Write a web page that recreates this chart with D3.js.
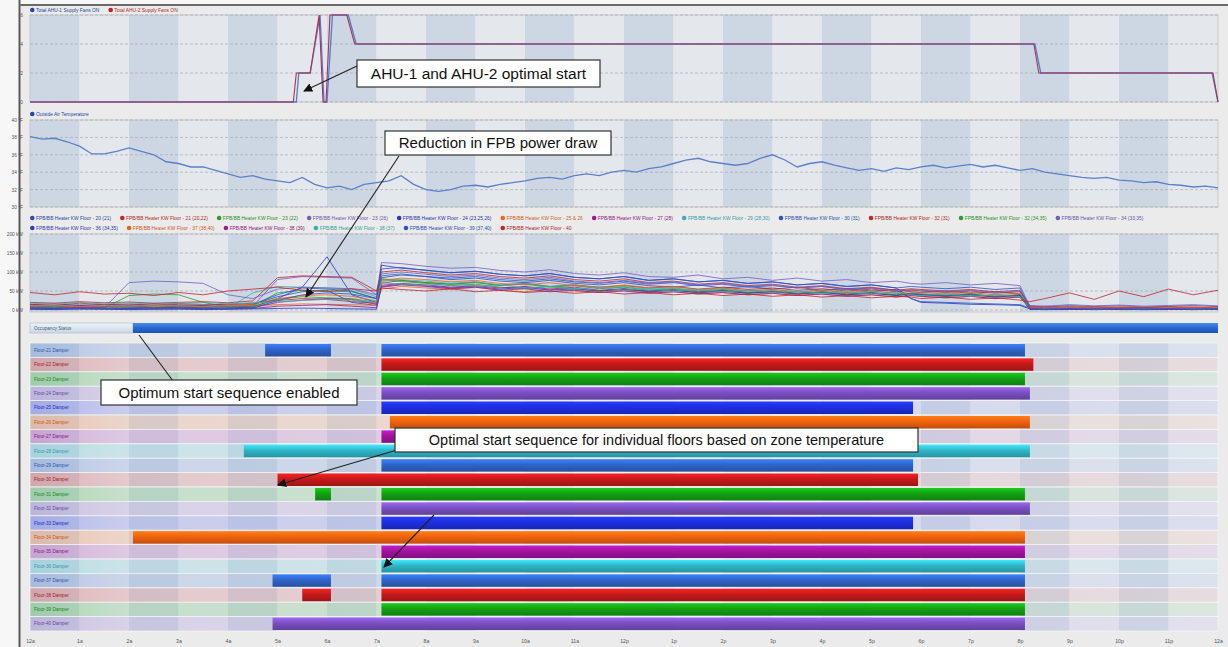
<!DOCTYPE html>
<html><head><meta charset="utf-8">
<script src="https://cdn.jsdelivr.net/npm/d3@7"></script>
<style>
body{margin:0;background:#fff;}
svg{display:block;font-family:"Liberation Sans",Arial,sans-serif;}
</style>
</head><body>
<svg id="c" width="1228" height="647"></svg>
<script>
// ---------------- DATA ----------------
const hourLabels = ["12a","1a","2a","3a","4a","5a","6a","7a","8a","9a","10a","11a","12p","1p","2p","3p","4p","5p","6p","7p","8p","9p","10p","11p","12a"];

// Panel 1: AHU supply fans ON
const ahuNames = ["Total AHU-1 Supply Fans ON","Total AHU-2 Supply Fans ON"];
const ahu1Hours = [0,5.38,5.43,5.66,5.86,5.94,6.0,6.11,6.43,6.59,20.3,20.42,23.88,24];
const ahu1Values = [0,0,2,2,6,0,0,6,6,4,4,2,2,0];
const ahu2Hours = [0,5.32,5.38,5.66,5.84,5.92,5.98,6.06,6.4,6.56,20.28,20.38,23.9,24];
const ahu2Values = [0,0,2,2,6,0,0,6,6,4,4,2,2,0];
const ahuTicks = [0,2,4,6];

// Panel 2: outside air temperature, every 15 min
const oatName = "Outside Air Temperature";
const oatValues = [38.1,37.8,37.9,37.5,37.0,36.1,36.1,36.4,36.8,36.4,36.0,35.2,35.0,34.6,34.6,34.2,
  33.8,33.4,33.6,33.2,33.0,32.8,33.4,32.6,32.2,32.4,32.0,32.6,32.8,33.0,33.6,32.6,
  32.0,31.8,32.0,32.4,32.5,32.3,32.6,32.8,33.0,33.3,33.4,33.2,33.6,33.8,33.6,34.0,
  34.2,34.0,34.4,34.6,35.0,35.4,35.6,35.2,35.0,34.8,35.0,35.6,36.0,35.4,34.6,35.0,
  35.2,34.8,34.5,34.2,34.4,34.1,34.5,34.3,34.6,34.8,34.5,34.7,34.9,34.6,34.8,34.5,
  34.2,34.4,34.0,33.8,33.6,33.4,33.3,33.4,33.1,33.0,32.8,32.9,32.6,32.5,32.3,32.4,32.2];
const oatTicks = [30,32,34,36,38,40];

// Panel 3: FPB/BB heater kW
const kwHours = [0,0.5,1,1.5,2,2.5,3,3.5,4,4.5,5,5.5,6,6.5,7,7.1,7.5,8,8.5,9,9.5,10,10.5,11,11.5,12,12.5,13,13.5,14,14.5,15,15.5,16,16.5,17,17.5,17.8,18,18.5,19,19.5,20,20.2,20.5,21,21.5,22,22.5,23,23.5,24];
const kwNames = [
 "FPB/BB Heater KW Floor - 20 (21)","FPB/BB Heater KW Floor - 21 (20,22)","FPB/BB Heater KW Floor - 23 (22)",
 "FPB/BB Heater KW Floor - 23 (26)","FPB/BB Heater KW Floor - 24 (23,25,26)","FPB/BB Heater KW Floor - 25 & 26",
 "FPB/BB Heater KW Floor - 27 (28)","FPB/BB Heater KW Floor - 29 (28,30)","FPB/BB Heater KW Floor - 30 (31)",
 "FPB/BB Heater KW Floor - 32 (31)","FPB/BB Heater KW Floor - 32 (34,35)","FPB/BB Heater KW Floor - 34 (33,35)",
 "FPB/BB Heater KW Floor - 36 (34,35)","FPB/BB Heater KW Floor - 37 (38,40)","FPB/BB Heater KW Floor - 38 (39)",
 "FPB/BB Heater KW Floor - 38 (37)","FPB/BB Heater KW Floor - 39 (37,40)","FPB/BB Heater KW Floor - 40"];
const kwColors = ["#2a4db5","#c0282d","#2aa02a","#7a5cc0","#2338c8","#e8691f","#9c1a8e","#3aaeb0","#2a54c0",
  "#c0282d","#2aa02a","#7060c0","#2a3fc0","#e8601f","#9c1a8e","#3aaeb0","#2a54c0","#c0282d"];
const kw01 = [10,8,12,9,11,7,10,12,8,14,35,48,52,20,12,85,92,88,80,84,76,72,78,70,66,72,64,60,66,58,62,55,60,52,56,50,54,48,46,50,44,48,42,6,4,5,3,6,4,5,3,4];
const kw02 = [15,12,18,14,16,13,17,15,14,18,25,30,28,22,18,70,78,72,68,74,65,70,62,66,60,64,58,62,55,60,54,58,52,56,50,55,48,52,50,46,50,44,48,8,10,6,8,5,7,6,8,5];
const kw03 = [5,4,6,5,38,42,40,20,8,10,45,52,50,48,30,80,75,70,64,68,60,56,62,54,50,56,48,52,46,50,44,48,42,46,40,44,38,42,40,36,40,34,38,3,2,4,2,3,2,4,3,2];
const kw04 = [8,6,9,7,8,6,9,7,8,10,80,88,86,84,40,125,122,115,110,112,104,100,106,96,92,98,88,86,92,82,86,78,84,76,80,72,76,70,68,72,66,70,64,10,8,12,9,11,8,10,12,9];
const kw05 = [6,5,7,4,6,5,7,6,5,8,30,60,140,40,20,118,110,105,98,102,94,90,96,86,82,88,78,82,74,78,70,74,66,70,62,66,58,30,20,18,15,14,12,3,2,3,2,4,2,3,2,3];
const kw06 = [12,10,14,11,13,10,12,14,11,12,14,16,15,14,12,55,62,58,54,60,52,48,55,50,46,52,44,48,42,46,40,44,38,42,36,40,34,38,36,32,36,30,34,5,4,6,3,5,4,6,3,5];
const kw07 = [3,2,4,3,2,4,3,2,3,4,10,12,14,10,6,65,70,66,60,64,58,62,55,60,52,56,50,54,48,52,46,50,44,48,42,46,40,44,42,38,42,36,40,2,1,2,1,2,1,2,1,2];
const kw08 = [4,3,5,4,3,5,4,3,4,45,62,60,58,55,35,75,80,76,70,74,66,70,62,66,58,62,55,58,52,56,50,54,48,52,46,50,44,40,38,42,36,40,34,4,3,5,3,4,3,5,4,3];
const kw09 = [14,16,12,15,13,17,14,12,16,15,40,58,55,50,30,90,95,88,84,88,80,76,82,74,70,76,68,72,64,68,60,64,58,62,54,58,52,30,22,20,18,16,14,5,4,6,4,5,3,5,4,5];
const kw10 = [20,18,22,19,21,18,20,22,19,24,85,90,88,86,50,100,105,98,92,96,88,84,90,80,76,82,72,76,68,72,64,68,60,64,56,60,52,56,54,50,54,48,52,8,6,9,7,8,6,9,7,8];
const kw11 = [8,10,7,9,8,11,9,8,10,9,28,35,32,30,20,82,78,72,68,72,64,68,60,64,56,60,52,56,50,54,46,50,44,48,42,46,40,44,42,38,42,36,40,3,2,4,2,3,2,3,2,3];
const kw12 = [6,5,7,6,72,76,74,70,40,30,55,60,58,56,40,95,100,94,88,92,84,80,86,76,72,78,70,74,66,70,62,66,58,62,54,58,50,54,52,48,52,46,50,12,10,14,11,13,10,12,14,11];
const kw13 = [2,1,3,2,1,2,3,1,2,3,4,5,4,3,2,62,68,64,58,62,55,60,52,56,50,54,48,52,45,50,44,48,42,46,40,44,38,42,40,36,40,34,38,2,1,2,1,2,1,2,1,2];
const kw14 = [10,12,9,11,10,13,11,9,12,14,30,38,40,36,24,78,84,80,74,78,70,66,72,64,60,66,58,62,54,58,50,54,48,52,46,50,44,48,46,42,46,40,44,6,5,7,5,6,4,6,5,6];
const kw15 = [5,4,6,5,4,6,5,4,5,6,20,26,30,28,15,60,66,62,56,60,52,56,48,52,46,50,44,48,42,46,40,44,38,42,36,40,34,38,36,32,36,30,34,2,2,3,2,2,3,2,2,3];
const kw16 = [18,15,20,16,19,15,18,20,16,19,22,25,28,26,20,72,68,64,70,62,66,58,62,55,60,52,56,50,54,48,52,46,50,44,48,42,46,40,38,42,36,40,34,4,3,5,3,4,3,5,3,4];
const kw17 = [3,4,2,3,4,2,3,4,3,5,25,40,45,42,30,108,112,104,98,102,94,90,96,86,82,88,78,82,74,78,70,74,66,70,62,66,58,62,60,56,60,54,58,4,3,4,3,4,3,4,3,4];
const kw18 = [46,40,48,42,44,38,46,40,50,55,60,52,48,56,50,58,54,50,56,48,52,46,50,44,48,42,46,40,44,38,42,36,40,34,38,32,36,34,30,34,28,32,26,22,30,45,28,50,35,55,40,52];
const kwSeries = [kw01,kw02,kw03,kw04,kw05,kw06,kw07,kw08,kw09,kw10,kw11,kw12,kw13,kw14,kw15,kw16,kw17,kw18];
const kwTicks = [0,50,100,150,200];

// Occupancy
const occLabel = "Occupancy Status";
const occStart = 2.08, occEnd = 24;

// Floor dampers
const floorNames = ["Floor-21 Damper","Floor-22 Damper","Floor-23 Damper","Floor-24 Damper","Floor-25 Damper",
 "Floor-26 Damper","Floor-27 Damper","Floor-28 Damper","Floor-29 Damper","Floor-30 Damper","Floor-31 Damper",
 "Floor-32 Damper","Floor-33 Damper","Floor-34 Damper","Floor-35 Damper","Floor-36 Damper","Floor-37 Damper",
 "Floor-38 Damper","Floor-39 Damper","Floor-40 Damper"];
const floorPalette = ["#2f64c8","#c41a1a","#14a014","#7a4fc0","#1e2fe0","#f0620f","#a0149e","#2fb6c6"];
const segFloor = [0,0,1,2,3,4,5,6,7,8,9,10,10,11,12,13,14,15,16,16,17,17,18,19];
const segStart = [4.75,7.1,7.1,7.1,7.1,7.1,7.27,7.1,4.32,7.1,5.0,5.76,7.1,7.1,7.1,2.08,7.1,7.1,4.9,7.1,5.5,7.1,7.1,4.9];
const segEnd   = [6.08,20.1,20.27,20.1,20.2,17.84,20.2,17.84,20.2,17.84,17.94,6.08,20.1,20.2,17.84,20.1,20.1,20.1,6.08,20.1,6.08,20.1,20.1,20.1];

// Annotations
const notes = [
 {text:"AHU-1 and AHU-2 optimal start"},
 {text:"Reduction in FPB power draw"},
 {text:"Optimum start sequence enabled"},
 {text:"Optimal start sequence for individual floors based on zone temperature"}
];

// ---------------- DRAW ----------------
const svg = d3.select("#c");
const X0 = 30, X1 = 1218;
const x = d3.scaleLinear().domain([0,24]).range([X0,X1]);
const defs = svg.append("defs");

svg.append("rect").attr("x",0).attr("y",0).attr("width",1228).attr("height",647).attr("fill","#f7f7f7");
svg.append("rect").attr("x",20).attr("y",5).attr("width",1208).attr("height",642).attr("fill","#ebebeb");
svg.append("line").attr("x1",19.5).attr("x2",19.5).attr("y1",0).attr("y2",647).attr("stroke","#5a5a5a").attr("stroke-width",2);
svg.append("line").attr("x1",19).attr("x2",1228).attr("y1",5).attr("y2",5).attr("stroke","#6a6a6a").attr("stroke-width",2);

const hours = d3.range(0,24);
function bands(y0,y1,dark,light){
  const g = svg.append("g");
  g.selectAll("rect").data(hours).join("rect")
    .attr("x",d=>x(d)).attr("width",d=>x(d+1)-x(d))
    .attr("y",y0).attr("height",y1-y0)
    .attr("fill",d=>d%2===0?dark:light);
  svg.append("rect").attr("x",X0).attr("y",y0).attr("width",X1-X0).attr("height",y1-y0)
    .attr("fill","none").attr("stroke","#c2c2c2").attr("stroke-width",0.8);
}
function yAxis(scale,ticks,fmt){
  const g = svg.append("g");
  g.selectAll("line").data(ticks).join("line")
    .attr("x1",X0).attr("x2",X1).attr("y1",d=>scale(d)).attr("y2",d=>scale(d))
    .attr("stroke","#9aa3ad").attr("stroke-width",0.6).attr("stroke-dasharray","3,2");
  const ax = svg.append("g").attr("transform",`translate(${X0-4},0)`)
    .call(d3.axisLeft(scale).tickValues(ticks).tickSize(0).tickFormat(fmt));
  ax.select(".domain").remove();
  ax.selectAll("text").attr("font-size",4.8).attr("fill","#555").attr("font-family","Liberation Sans, Arial");
}
function legend(items,colors,x0,y,rowMax){
  const g = svg.append("g");
  let cx = x0, cy = y;
  items.forEach((t,i)=>{
    const it = g.append("g");
    it.append("circle").attr("cx",cx+2.3).attr("cy",cy).attr("r",2.3).attr("fill",colors[i]);
    const tx = it.append("text").attr("x",cx+6).attr("y",cy+1.6).attr("font-size",4.9)
      .attr("fill",d3.color(colors[i]).darker(0.3)).text(t);
    const w = tx.node().getComputedTextLength();
    cx += 6 + w + 9;
    if(rowMax && (i+1)%rowMax===0){cx = x0; cy += 10;}
  });
}

// ----- Panel 1 -----
const y1 = d3.scaleLinear().domain([0,6]).range([102,15]);
bands(15,102,"#cdd7e3","#e4e7ec");
yAxis(y1,ahuTicks,d=>d);
legend(ahuNames,["#1f49b0","#c0202a"],30,10);
const lineA = d3.line().x(d=>x(d[0])).y(d=>y1(d[1]));
svg.append("path").attr("d",lineA(d3.zip(ahu1Hours,ahu1Values))).attr("fill","none").attr("stroke","#4f7fd0").attr("stroke-width",1.3);
svg.append("path").attr("d",lineA(d3.zip(ahu2Hours,ahu2Values))).attr("fill","none").attr("stroke","#b03050").attr("stroke-width",1.1);

// ----- Panel 2 -----
const y2 = d3.scaleLinear().domain([30,40]).range([207,120]);
bands(120,207,"#cdd7e3","#e4e7ec");
yAxis(y2,oatTicks,d=>d+" °F");
legend([oatName],["#1f49b0"],30,114);
const oatHours = oatValues.map((_,i)=>i*0.25);
svg.append("path").attr("d",d3.line().x(d=>x(d[0])).y(d=>y2(d[1]))(d3.zip(oatHours,oatValues)))
  .attr("fill","none").attr("stroke","#5a80cc").attr("stroke-width",1.3);

// ----- Panel 3 -----
const y3 = d3.scaleLinear().domain([0,200]).range([310,234]);
bands(234,312,"#cdd7e3","#e4e7ec");
yAxis(y3,kwTicks,d=>d+" kW");
legend(kwNames,kwColors,30,218,12);
const lineK = d3.line().x(d=>x(d[0])).y(d=>y3(d[1]));
kwSeries.forEach((s,i)=>{
  svg.append("path").attr("d",lineK(d3.zip(kwHours,s))).attr("fill","none")
    .attr("stroke",kwColors[i]).attr("stroke-width",0.9).attr("opacity",0.9);
});

// ----- Occupancy -----
const gOccL = defs.append("linearGradient").attr("id","occL").attr("x1",0).attr("x2",0).attr("y1",0).attr("y2",1);
gOccL.append("stop").attr("offset","0").attr("stop-color","#eef3f9");
gOccL.append("stop").attr("offset","1").attr("stop-color","#c9d7e8");
const gOcc = defs.append("linearGradient").attr("id","occB").attr("x1",0).attr("x2",0).attr("y1",0).attr("y2",1);
gOcc.append("stop").attr("offset","0").attr("stop-color","#4b8be6");
gOcc.append("stop").attr("offset","0.5").attr("stop-color","#2568d2");
gOcc.append("stop").attr("offset","1").attr("stop-color","#1b52b4");
svg.append("rect").attr("x",X0).attr("y",323).attr("width",x(occStart)-X0).attr("height",10)
  .attr("fill","url(#occL)").attr("stroke","#aeb8c4").attr("stroke-width",0.6);
svg.append("text").attr("x",X0+4).attr("y",329.6).attr("font-size",4.6).attr("fill","#4a5a70").text(occLabel);
svg.append("rect").attr("x",x(occStart)).attr("y",323).attr("width",x(occEnd)-x(occStart)).attr("height",10)
  .attr("fill","url(#occB)");

// ----- Floor rows -----
const rowTop = 343, rowH = 14.4;
const yRow = d3.scaleBand().domain(d3.range(floorNames.length)).range([rowTop,rowTop+rowH*floorNames.length]).paddingInner(0);
svg.append("g").selectAll("rect").data(hours).join("rect")
  .attr("x",d=>x(d)).attr("width",d=>x(d+1)-x(d)).attr("y",rowTop).attr("height",rowH*floorNames.length)
  .attr("fill",d=>d%2===0?"#d6dde6":"#e9ebef");
floorPalette.forEach((c,i)=>{
  const g = defs.append("linearGradient").attr("id","row"+i);
  g.append("stop").attr("offset","0").attr("stop-color",c).attr("stop-opacity",0.28);
  g.append("stop").attr("offset","0.08").attr("stop-color",c).attr("stop-opacity",0.16);
  g.append("stop").attr("offset","1").attr("stop-color",c).attr("stop-opacity",0.07);
  const b = defs.append("linearGradient").attr("id","bar"+i).attr("x1",0).attr("x2",0).attr("y1",0).attr("y2",1);
  b.append("stop").attr("offset","0").attr("stop-color",d3.color(c).brighter(0.7));
  b.append("stop").attr("offset","0.45").attr("stop-color",c);
  b.append("stop").attr("offset","1").attr("stop-color",d3.color(c).darker(0.6));
});
const rows = svg.append("g");
rows.selectAll("rect").data(floorNames).join("rect")
  .attr("x",X0).attr("width",X1-X0).attr("y",(d,i)=>yRow(i)).attr("height",yRow.bandwidth())
  .attr("fill",(d,i)=>`url(#row${i%8})`).attr("stroke","#f4f5f7").attr("stroke-width",0.7);
rows.selectAll("text").data(floorNames).join("text")
  .attr("x",X0+4).attr("y",(d,i)=>yRow(i)+yRow.bandwidth()/2+1.6).attr("font-size",4.6)
  .attr("fill",(d,i)=>d3.color(floorPalette[i%8]).darker(0.4)).text(d=>d);
svg.append("g").selectAll("rect").data(segFloor).join("rect")
  .attr("x",(d,i)=>x(segStart[i])).attr("width",(d,i)=>x(segEnd[i])-x(segStart[i]))
  .attr("y",d=>yRow(d)+1).attr("height",yRow.bandwidth()-2)
  .attr("fill",d=>`url(#bar${d%8})`);

// ----- X axis -----
const xa = svg.append("g").attr("transform","translate(0,636)")
  .call(d3.axisBottom(x).tickValues(d3.range(0,25)).tickSize(0).tickFormat(d=>hourLabels[d]));
xa.select(".domain").remove();
xa.selectAll("text").attr("font-size",5.2).attr("fill","#555").attr("font-family","Liberation Sans, Arial");

// ----- Annotations -----
defs.append("marker").attr("id","arr").attr("viewBox","0 0 10 10").attr("refX",9).attr("refY",5)
  .attr("markerWidth",9).attr("markerHeight",9).attr("markerUnits","userSpaceOnUse").attr("orient","auto")
  .append("path").attr("d","M0,0 L10,5 L0,10 z").attr("fill","#111");
function arrow(x1,y1,x2,y2,head){
  svg.append("line").attr("x1",x1).attr("y1",y1).attr("x2",x2).attr("y2",y2)
    .attr("stroke","#222").attr("stroke-width",1.1).attr("marker-end",head?"url(#arr)":null);
}
function box(n,bx,by,bw,bh,fs){
  svg.append("rect").attr("x",bx).attr("y",by).attr("width",bw).attr("height",bh)
    .attr("fill","#fff").attr("stroke","#333").attr("stroke-width",1.2);
  svg.append("text").attr("x",bx+bw/2).attr("y",by+bh/2+fs*0.36).attr("text-anchor","middle")
    .attr("font-size",fs).attr("fill","#111").text(notes[n].text);
}
arrow(357,66,304,91,true);
box(0,357,60,243,27,15.5);
arrow(399,156,306,297,true);
box(1,385,131,226,24,15);
arrow(173,381,139,335,false);
box(2,101,380,256,25,15);
arrow(397,450,278,485,true);
arrow(434,515,384,567,true);
box(3,395,428,523,24,14.5);
</script>
</body></html>
